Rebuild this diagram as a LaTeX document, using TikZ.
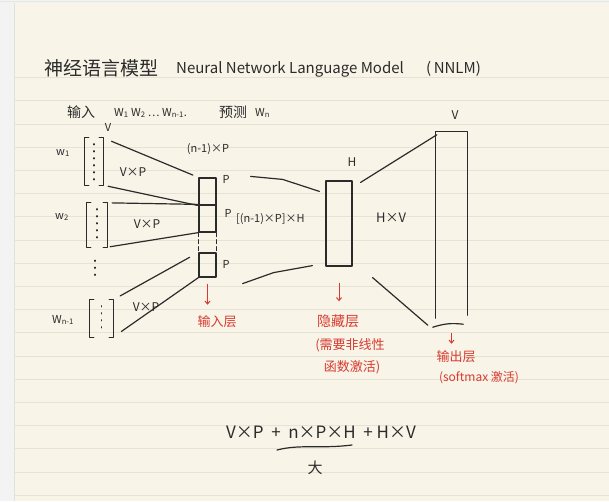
\documentclass[tikz,border=0pt]{standalone}
\usepackage{fontspec}
\newfontfamily\cjk{Noto Sans CJK SC}
\usetikzlibrary{calc,
	positioning,
	arrows.meta}
\definecolor{paper}{HTML}{F8F4E8}
\definecolor{rulec}{HTML}{E6E2D6}
\definecolor{inkc}{HTML}{2B2B2B}
\definecolor{redc}{HTML}{D93A30}
\definecolor{marginc}{HTML}{F3F3F3}
\tikzset{
	ink/.style={draw=inkc, line width=1.2pt, line cap=round, line join=round},
	txt/.style={font=\cjk\fontsize{#1}{#1}\selectfont},
	redtxt/.style={txt=#1, text=redc},
	layer/.style={ink, minimum width=17pt, minimum height=#1},
	redarrow/.style={draw=redc, line width=1pt, -{Straight Barb[length=3pt,width=5pt]}}
}

\begin{document}
\begin{tikzpicture}[x=1pt,y=-1pt,every node/.style={font=\cjk, text=inkc, inner sep=0pt}]
				\useasboundingbox (0,0) rectangle (609,501);
				% paper
				\fill[marginc] (0,0) rectangle (609,501);
				\fill[paper] (14,3) rectangle (609,501);
				\draw[black!12, line width=0.6pt] (14,3) -- (14,501);
				\draw[black!10, line width=0.8pt] (0,1.5) -- (609,1.5);
				\foreach \k in {0,...,18}
					\draw[rulec, line width=0.8pt] (14,{77.5+23.2*\k}) -- (609,{77.5+23.2*\k});
				% heading
				\node[txt=19, anchor=west] (title) at (44,68) {神经语言模型};
				\node[txt=15, anchor=west] (titleen) at (176,69) {Neural Network Language Model};
				\node[txt=15, anchor=west] (abbr) at (426,69) {(\,NNLM)};
				\node[txt=14, anchor=west] (inp) at (67,112) {输入};
				\node[txt=11, anchor=west] (seq) at (114,113) {W\textsubscript{1} W\textsubscript{2} … W\textsubscript{n-1}.};
				\node[txt=14, anchor=west] (pred) at (219,112) {预测};
				\node[txt=11, anchor=west] (wn) at (255,113) {W\textsubscript{n}};
				% one-hot words
				\node[minimum width=18pt, minimum height=47pt] (m1) at (94,161.5) {};
				\node[minimum width=20pt, minimum height=44pt] (m2) at (97,225) {};
				\node[minimum width=23pt, minimum height=37pt] (m3) at (101.5,318.5) {};
				\foreach \m in {m1,m2,m3} {
					\draw[ink] ([xshift=4pt]\m.north west) -- (\m.north west) -- (\m.south west) -- ([xshift=4pt]\m.south west);
					\draw[ink] ([xshift=-4pt]\m.north east) -- (\m.north east) -- (\m.south east) -- ([xshift=-4pt]\m.south east);
					\draw[ink, dash pattern=on 1pt off 6pt, shorten <=6pt, shorten >=5pt] (\m.north) -- (\m.south);
				}
				\draw[ink, dash pattern=on 1pt off 6pt] ($(m2.south)+(-2,13)$) -- ($(m2.south)+(-2,30)$);
				\node[txt=11] (vtop) at (108,127) {V};
				\node[txt=11] (w1) at (63,153) {w\textsubscript{1}};
				\node[txt=11] (w2) at (62,217) {w\textsubscript{2}};
				\node[txt=11] (wn1) at (63,320) {W\textsubscript{n-1}};
				\node[txt=12] (vp1) at (133,172) {V×P};
				\node[txt=12] (vp2) at (147,224) {V×P};
				\node[txt=12] (vp3) at (146,307) {V×P};
				% input layer
				\node[layer=27pt] (in1) at (207.5,191.5) {};
				\node[layer=27pt] (in2) at (207.5,218.5) {};
				\node[layer=24pt] (in3) at (207.5,265) {};
				\draw[ink, dash pattern=on 4pt off 3pt] (in2.south west) -- (in3.north west);
				\draw[ink, dash pattern=on 4pt off 3pt] (in2.south east) -- (in3.north east);
				\node[txt=11] (p1) at (226,179) {P};
				\node[txt=11] (p2) at (228,213) {P};
				\node[txt=11] (p3) at (226,264) {P};
				\node[txt=11] (nxp) at (208,149) {(n-1)×P};
				\node[txt=11, anchor=west] (wih) at (236,219) {[(n-1)×P]×H};
				\draw[ink, shorten <=9pt, shorten >=6pt] (m1.north east) -- (in1.north west);
				\draw[ink, shorten <=5pt, shorten >=1pt] (m1.south east) -- (in1.south west);
				\draw[ink, shorten <=5pt] (m2.north east) -- (in2.north west);
				\draw[ink, shorten <=3pt] (m2.south east) -- (in2.south west);
				\draw[ink, shorten <=8pt, shorten >=10pt] (m3.north east) -- (in3.north west);
				\draw[ink, shorten <=10pt] (m3.south east) -- (in3.south west);
				% hidden layer
				\node[ink, minimum width=26pt, minimum height=85pt] (hid) at (339,223.5) {};
				\node[txt=12] (hlbl) at (352,162) {H};
				\draw[ink] ($(in1.north east)+(34,-1)$) -- ($(in1.north east)+(66,2)$) -- ($(hid.north west)+(-6,11)$);
				\draw[ink] ($(in3.south east)+(26,6)$) -- ($(in3.south east)+(57,-5)$) -- ($(hid.south west)+(-13,-1)$);
				% output layer
				\node[minimum width=31pt, minimum height=190pt] (out) at (451.5,227) {};
				\draw[ink] ([yshift=4pt]out.south west) -- (out.north west) -- (out.north east) -- ([yshift=7pt]out.south east);
				\draw[ink] ([xshift=-3pt,yshift=-5pt]out.south west) to[bend left=12] ([xshift=-4pt,yshift=-2pt]out.south east);
				\node[txt=12] (vout) at (455,115) {V};
				\node[txt=13] (hv) at (391,218) {H×V};
				\draw[ink] ($(hid.north east)+(8,2)$) -- ($(out.north west)+(1,3)$);
				\draw[ink] ($(hid.south east)+(20,11)$) -- ($(out.south west)+(-8,3)$);
				% red notes
				\node[redtxt=13] (inlbl) at (217,322) {输入层};
				\node[redtxt=14] (hidlbl) at (338,321) {隐藏层};
				\node[redtxt=13] (hidnote1) at (350,345) {(需要非线性};
				\node[redtxt=13] (hidnote2) at (352,367) {函数激活)};
				\node[redtxt=13] (outlbl) at (456,357) {输出层};
				\node[redtxt=12] (outnote) at (479,378) {(softmax 激活)};
				\draw[redarrow, shorten <=6pt, shorten >=11pt] (in3.south) -- (in3.south |- inlbl.north);
				\draw[redarrow, shorten <=16pt, shorten >=13pt] (hid.south) -- (hid.south |- hidlbl.north);
				\draw[redarrow, shorten <=11pt, shorten >=7pt] (out.south) -- (out.south |- outlbl.north);
				% parameter count
				\node[txt=17] (formula) at (321,432) {V×P\ \ +\ \ n×P×H\ \ +\ H×V};
				\draw[ink] ($(formula.center)+(-44,18)$) .. controls ($(formula.center)+(-21,12)$) and ($(formula.center)+(-1,17)$) .. ($(formula.center)+(31,13)$);
				\node[txt=15] (big) at (315,468) {大};
			\end{tikzpicture}
\end{document}
